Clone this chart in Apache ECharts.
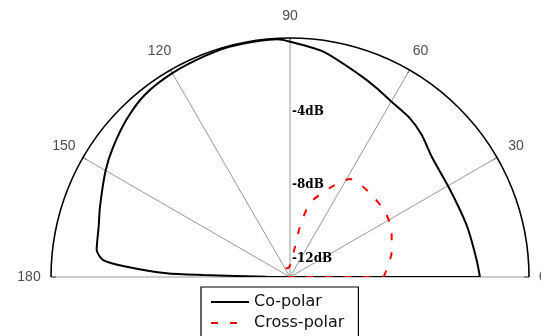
<!DOCTYPE html>
<html>
<head>
<meta charset="utf-8">
<script src="https://cdn.jsdelivr.net/npm/echarts@6/dist/echarts.min.js"></script>
<style>
  html, body { margin: 0; padding: 0; background: #fff; }
  #chart { width: 541px; height: 336px; }
</style>
</head>
<body>
<div id="chart"></div>
<script>
// Radiation pattern, normalised gain in dB versus angle in degrees
const angleTicks = [0, 30, 60, 90, 120, 150, 180];
const gainTicks = [-4, -8, -12];

const copolarAngle = [0, 5, 15, 21.5, 30, 40.3, 47.2, 52.9, 60, 65.3, 71, 81.6, 90, 93, 104, 111, 120, 128.6, 136, 143.6, 150, 159.7, 165, 172, 174.8, 176.4, 178.3, 178.7, 179.5, 180];
const copolarGain  = [-2.67, -2.80, -2.97, -3.06, -3.08, -2.89, -2.46, -2.18, -1.98, -1.70, -1.37, -0.61, -0.2, -0.05, -0.05, -0.12, -0.2, -0.33, -0.65, -1.06, -1.42, -1.98, -2.23, -2.38, -2.80, -4.10, -6.29, -8.28, -11.75, -13];

const crossAngle = [0, 14, 24, 34.5, 47.4, 58.5, 66.1, 74.8, 78.8, 80.6, 85, 100, 120, 150, 170, 180];
const crossGain  = [-7.91, -7.30, -6.95, -6.73, -6.70, -6.75, -7.72, -8.84, -10.21, -11.33, -12.18, -12.5, -12.46, -12.56, -12.7, -13];

const gainMin = -13;
const gainMax = 0;

// polar data is [radius, angle]; the trace is closed back to its first point
function closedTrace(angles, gains) {
  const pts = angles.map((a, i) => [gains[i], a]);
  pts.push(pts[0]);
  return pts;
}

const center = [290, 277];
const radius = 239;
const labelRadius = 261;

const halfAngle = {
  type: 'value', min: 0, max: 180, interval: 30,
  startAngle: 0, endAngle: 180, clockwise: false
};
const gainAxis = { type: 'value', min: gainMin, max: gainMax };

const chart = echarts.init(document.getElementById('chart'));
chart.setOption({
  animation: false,
  polar: [
    { center: center, radius: radius },     // pattern
    { center: center, radius: radius },     // dB scale along the 90 degree spoke
    { center: center, radius: labelRadius } // angle tick labels outside the rim
  ],
  angleAxis: [
    Object.assign({}, halfAngle, {
      polarIndex: 0,
      axisLine: { lineStyle: { color: '#000', width: 1.6 } },
      axisTick: { show: true, inside: true, length: 5, lineStyle: { color: '#000', width: 1 } },
      splitLine: { show: true, lineStyle: { color: '#9a9a9a', width: 1 } },
      axisLabel: { show: false }
    }),
    { polarIndex: 1, type: 'value', min: 0, max: 360, startAngle: 90, show: false },
    Object.assign({}, halfAngle, { polarIndex: 2, show: false })
  ],
  radiusAxis: [
    Object.assign({}, gainAxis, {
      polarIndex: 0,
      axisLine: { show: false }, axisTick: { show: false },
      axisLabel: { show: false }, splitLine: { show: false }
    }),
    Object.assign({}, gainAxis, {
      polarIndex: 1,
      interval: 1,
      axisLine: { show: false },
      axisTick: { show: false },
      splitLine: { show: false },
      axisLabel: {
        margin: -2,
        align: 'left',
        verticalAlign: 'middle',
        color: '#000',
        fontFamily: 'DejaVu Serif',
        fontWeight: 'bold',
        fontSize: 12,
        formatter: v => gainTicks.includes(v) ? v + 'dB' : ''
      }
    }),
    Object.assign({}, gainAxis, { polarIndex: 2, show: false })
  ],
  legend: {
    orient: 'vertical',
    left: 201,
    top: 287,
    width: 150,
    height: 70,
    padding: [7, 14, 7, 9],
    itemWidth: 38,
    itemHeight: 14,
    itemGap: 5,
    borderColor: '#000',
    borderWidth: 1.2,
    borderRadius: 0,
    itemStyle: { opacity: 0 },
    textStyle: { color: '#111', fontFamily: 'DejaVu Sans', fontSize: 16, lineHeight: 16 },
    data: ['Co-polar', 'Cross-polar']
  },
  series: [
    {
      name: 'Co-polar',
      type: 'line',
      coordinateSystem: 'polar',
      polarIndex: 0,
      symbol: 'none',
      smooth: 0.25,
      lineStyle: { color: '#000', width: 2 },
      itemStyle: { color: '#000' },
      data: closedTrace(copolarAngle, copolarGain),
      z: 3
    },
    {
      name: 'Cross-polar',
      type: 'line',
      coordinateSystem: 'polar',
      polarIndex: 0,
      symbol: 'none',
      smooth: 0.25,
      lineStyle: { color: '#ff0000', width: 2, type: [7, 12] },
      itemStyle: { color: '#ff0000' },
      data: closedTrace(crossAngle, crossGain),
      z: 4
    },
    {
      name: 'angle labels',
      type: 'scatter',
      coordinateSystem: 'polar',
      polarIndex: 2,
      symbolSize: 0,
      silent: true,
      label: {
        show: true,
        position: 'inside',
        color: '#222',
        fontFamily: 'Liberation Sans',
        fontSize: 14,
        formatter: p => String(p.value[1])
      },
      data: angleTicks.map(a => ({
        value: [gainMax, a],
        label: a === 0 ? { offset: [-8, 0] } : undefined
      }))
    }
  ]
});
</script>
</body>
</html>
